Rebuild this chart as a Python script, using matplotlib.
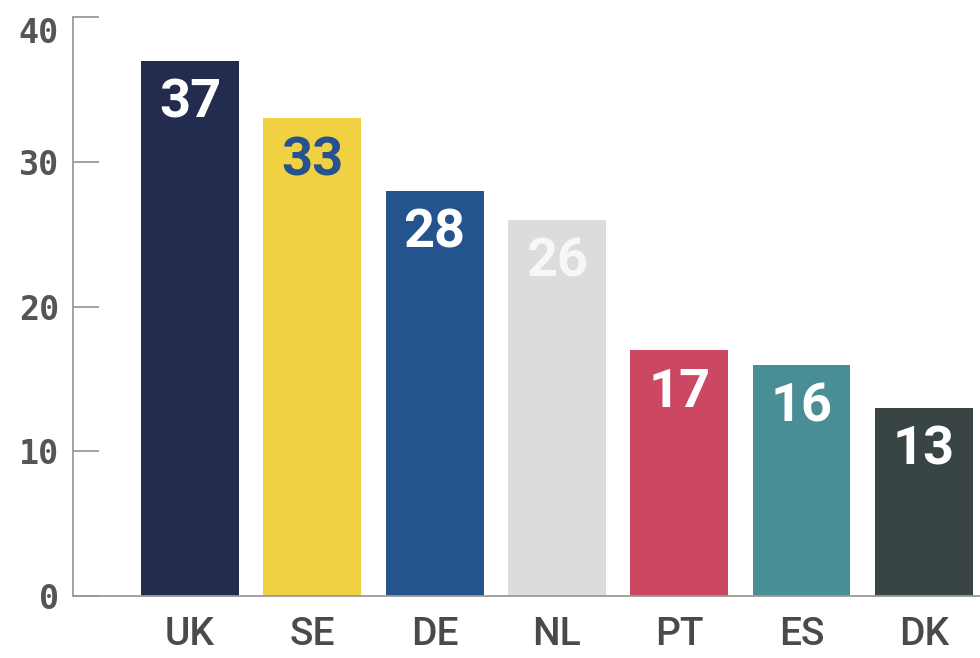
import matplotlib
matplotlib.use("Agg")
import matplotlib.pyplot as plt

countries = ["UK", "SE", "DE", "NL", "PT", "ES", "DK"]
values = [37, 33, 28, 26, 17, 16, 13]
bar_colors = ["#232c4e", "#f0d141", "#24548e", "#dcdcda", "#cc4862", "#4a8e95", "#394444"]
label_colors = ["#ffffff", "#26538f", "#ffffff", "#f7f7f5", "#ffffff", "#ffffff", "#ffffff"]
y_ticks = [0, 10, 20, 30, 40]

fig = plt.figure(figsize=(9.8, 6.58), dpi=100)
ax = fig.add_axes([0.0745, 0.094, 0.9255, 0.880])

x = range(len(countries))
ax.bar(x, values, width=0.8, color=bar_colors, zorder=2)

for xi, v, c in zip(x, values, label_colors):
    ax.annotate(str(v), (xi, v), xytext=(0, -12), textcoords="offset points",
                ha="center", va="top", fontsize=39, fontweight="bold",
                family=["Roboto", "DejaVu Sans"], color=c, zorder=3)

ax.set_xlim(-0.957, 6.46)
ax.set_ylim(0, 40)

ax.set_xticks(list(x))
ax.set_xticklabels(countries, family=["Roboto", "DejaVu Sans"], fontsize=28,
                   fontweight="medium", color="#4a4a4a")
ax.tick_params(axis="x", length=0, pad=14)

ax.set_yticks(y_ticks)
ax.set_yticklabels([str(t) for t in y_ticks], family="DejaVu Sans Mono",
                   fontsize=24, fontweight="bold", color="#555555")
ax.tick_params(axis="y", direction="in", length=19, width=1.3, color="#9a9a9a", pad=10)
ax.get_yticklabels()[-1].set_verticalalignment("top")

for side in ("top", "right"):
    ax.spines[side].set_visible(False)
for side in ("left", "bottom"):
    ax.spines[side].set_color("#9a9a9a")
    ax.spines[side].set_linewidth(1.3)

fig.savefig("out.png", dpi=100)
